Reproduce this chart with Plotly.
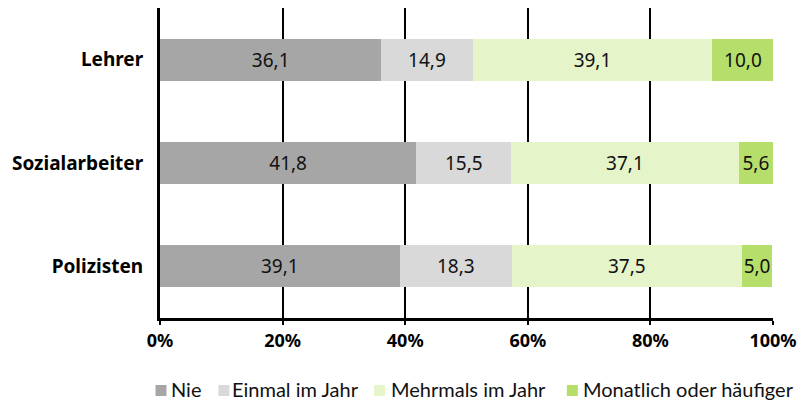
import plotly.graph_objects as go

categories = ["Lehrer", "Sozialarbeiter", "Polizisten"]
series_names = ["Nie", "Einmal im Jahr", "Mehrmals im Jahr", "Monatlich oder häufiger"]
nie = [36.1, 41.8, 39.1]
einmal = [14.9, 15.5, 18.3]
mehrmals = [39.1, 37.1, 37.5]
monatlich = [10.0, 5.6, 5.0]
tick_values = [0, 20, 40, 60, 80, 100]
tick_labels = ["0%", "20%", "40%", "60%", "80%", "100%"]

colors = ["#a6a6a6", "#d9d9d9", "#e6f4c9", "#b6de6b"]
values = [nie, einmal, mehrmals, monatlich]

W, H = 805, 402
ML, MR, MT, MB = 159.5, 31.5, 8, 84
PW, PH = W - ML - MR, H - MT - MB


def px_x(px):
    return (px - ML) / PW


def px_y(py):
    return (H - MB - py) / PH


fig = go.Figure()
for name, vals, col in zip(series_names, values, colors):
    fig.add_trace(go.Bar(
        y=categories, x=vals, name=name, orientation="h",
        marker=dict(color=col, line=dict(width=0)),
        text=[f"{v:.1f}".replace(".", ",") for v in vals],
        textposition="inside", insidetextanchor="middle",
        textangle=0, constraintext="none",
        textfont=dict(family="Noto Sans", size=19, color="#111111"),
        showlegend=False,
    ))

# custom legend (swatch + label), laid out like the reference
legend_swatch_left = [155, 218, 374, 567]
legend_text_left = [171, 232, 391, 583]
leg_cy = 389
for name, col, sx, tx in zip(series_names, colors, legend_swatch_left, legend_text_left):
    fig.add_shape(type="rect", xref="paper", yref="paper",
                  x0=px_x(sx), x1=px_x(sx + 11), y0=px_y(leg_cy + 7), y1=px_y(leg_cy - 4),
                  fillcolor=col, line=dict(width=0))
    fig.add_annotation(text=name, xref="paper", yref="paper",
                       x=px_x(tx - 2), y=px_y(leg_cy), xanchor="left", yanchor="middle",
                       showarrow=False,
                       font=dict(family="Lato", size=20, color="#111111"))

fig.update_layout(
    barmode="stack",
    bargap=0.594,
    width=W, height=H,
    margin=dict(l=ML, r=MR, t=MT, b=MB, pad=0),
    paper_bgcolor="white", plot_bgcolor="white",
    showlegend=False,
    xaxis=dict(
        range=[0, 100], tickvals=tick_values, ticktext=tick_labels,
        showgrid=True, gridcolor="#000000", gridwidth=2,
        showline=True, linecolor="#000000", linewidth=3,
        ticks="outside", ticklen=4, tickwidth=2, tickcolor="#000000",
        tickfont=dict(family="Noto Sans", size=18, color="#000000", weight="bold"),
        zeroline=False, fixedrange=True,
    ),
    yaxis=dict(
        autorange="reversed",
        showline=True, linecolor="#000000", linewidth=3,
        showgrid=False, ticks="", ticklabelstandoff=10,
        tickfont=dict(family="Noto Sans", size=19, color="#000000", weight="bold"),
        fixedrange=True,
    ),
)

fig.write_html(
    "out.html",
    config={"displayModeBar": False},
    post_script="document.body.style.margin='0';document.body.style.overflow='hidden';",
)
